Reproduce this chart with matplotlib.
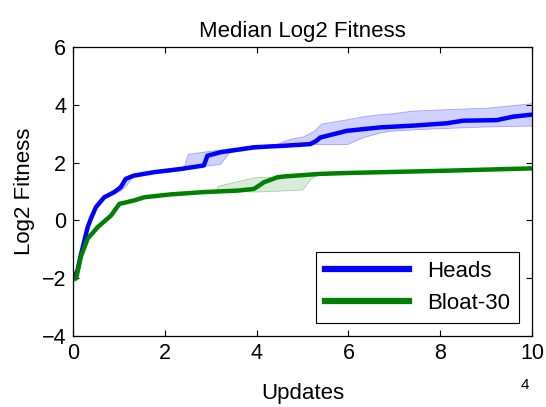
import numpy as np
import matplotlib
matplotlib.use("Agg")
import matplotlib.pyplot as plt

# median curves (updates in units of 1e4)
heads_x = [0, 0.05, 0.1, 0.17, 0.25, 0.32, 0.4, 0.5, 0.68, 0.9, 1.04, 1.15, 1.33, 1.77,
           2.35, 2.85, 2.93, 3.22, 3.94, 4.67, 5.17, 5.3, 5.39, 5.97, 6.7, 7.42, 8.14,
           8.5, 9.23, 9.59, 10]
heads_y = [-2.0, -1.9, -1.72, -1.2, -0.69, -0.23, 0.1, 0.46, 0.8, 0.98, 1.15, 1.44, 1.55, 1.67,
           1.78, 1.9, 2.24, 2.36, 2.53, 2.59, 2.64, 2.75, 2.87, 3.1, 3.22, 3.28, 3.36,
           3.45, 3.47, 3.59, 3.66]

bloat_x = [0, 0.07, 0.17, 0.32, 0.54, 0.83, 1.01, 1.33, 1.55, 2.13, 2.85, 3.58, 3.94,
           4.05, 4.16, 4.45, 4.6, 5.39, 5.97, 8.14, 10]
bloat_y = [-2.05, -2.0, -1.26, -0.63, -0.23, 0.17, 0.57, 0.69, 0.8, 0.9, 0.98, 1.03, 1.09,
           1.2, 1.32, 1.49, 1.52, 1.61, 1.64, 1.72, 1.8]

# quartile bands
heads_band_x = [0.9, 1.0, 1.15, 1.3, 2.4, 2.5, 2.93, 3.2, 3.4, 4.4, 4.52, 4.74, 5.0, 5.25,
                5.4, 5.97, 6.3, 6.7, 6.9, 7.4, 8.14, 9.0, 9.96, 10]
heads_band_hi = [0.98, 1.2, 1.5, 1.6, 1.8, 2.3, 2.4, 2.45, 2.5, 2.6, 2.7, 2.83, 2.9, 3.1,
                 3.35, 3.5, 3.6, 3.68, 3.7, 3.8, 3.85, 3.9, 4.05, 4.1]
heads_band_lo = [0.98, 1.0, 1.2, 1.55, 1.75, 1.8, 1.9, 1.95, 2.36, 2.57, 2.58, 2.6, 2.62, 2.64,
                 2.64, 2.64, 2.87, 3.05, 3.1, 3.15, 3.2, 3.25, 3.28, 3.28]

bloat_band_x = [3.1, 3.15, 3.94, 4.0, 4.5, 5.0, 5.17, 5.3]
bloat_band_hi = [1.0, 1.2, 1.49, 1.5, 1.52, 1.55, 1.57, 1.57]
bloat_band_lo = [1.0, 1.03, 1.0, 1.0, 1.03, 1.07, 1.45, 1.57]

plt.rcParams['font.family'] = ['Liberation Sans', 'DejaVu Sans']

fig = plt.figure(figsize=(5.46, 4.07), dpi=100)
ax = fig.add_axes([73 / 546, 71 / 407, 459 / 546, 289 / 407])

ax.fill_between(heads_band_x, heads_band_lo, heads_band_hi, facecolor=(0, 0, 1, 0.18),
                edgecolor=(0, 0, 1, 0.3), linewidth=0.6)
ax.fill_between(bloat_band_x, bloat_band_lo, bloat_band_hi, facecolor=(0, 0.5, 0, 0.15),
                edgecolor=(0, 0.5, 0, 0.3), linewidth=0.6)
ax.plot(heads_x, heads_y, color='#0000ff', linewidth=3.2, label='Heads')
ax.plot(bloat_x, bloat_y, color='#008000', linewidth=3.2, label='Bloat-30')

ax.set_xlim(0, 10)
ax.set_ylim(-4, 6)
ax.set_xticks([0, 2, 4, 6, 8, 10])
ax.set_yticks([-4, -2, 0, 2, 4, 6])
ax.tick_params(direction='in', length=4, top=True, right=True, labelsize=15.5, width=0.8, pad=5)
for s in ax.spines.values():
    s.set_linewidth(0.9)

ax.set_title("Median Log2 Fitness", fontsize=16, pad=7)
ax.set_xlabel("Updates", fontsize=16, labelpad=14)
ax.set_ylabel("Log2 Fitness", fontsize=16, labelpad=5)
fig.text(525 / 546, 1 - 385 / 407, "4", fontsize=11, ha='center', va='center')

leg = ax.legend(loc='lower right', fontsize=16, fancybox=False, framealpha=1,
                edgecolor='black', handlelength=3.8, borderaxespad=0.6)
leg.get_frame().set_linewidth(0.8)
for line in leg.get_lines():
    line.set_linewidth(4.5)

fig.savefig("out.png", dpi=100)
